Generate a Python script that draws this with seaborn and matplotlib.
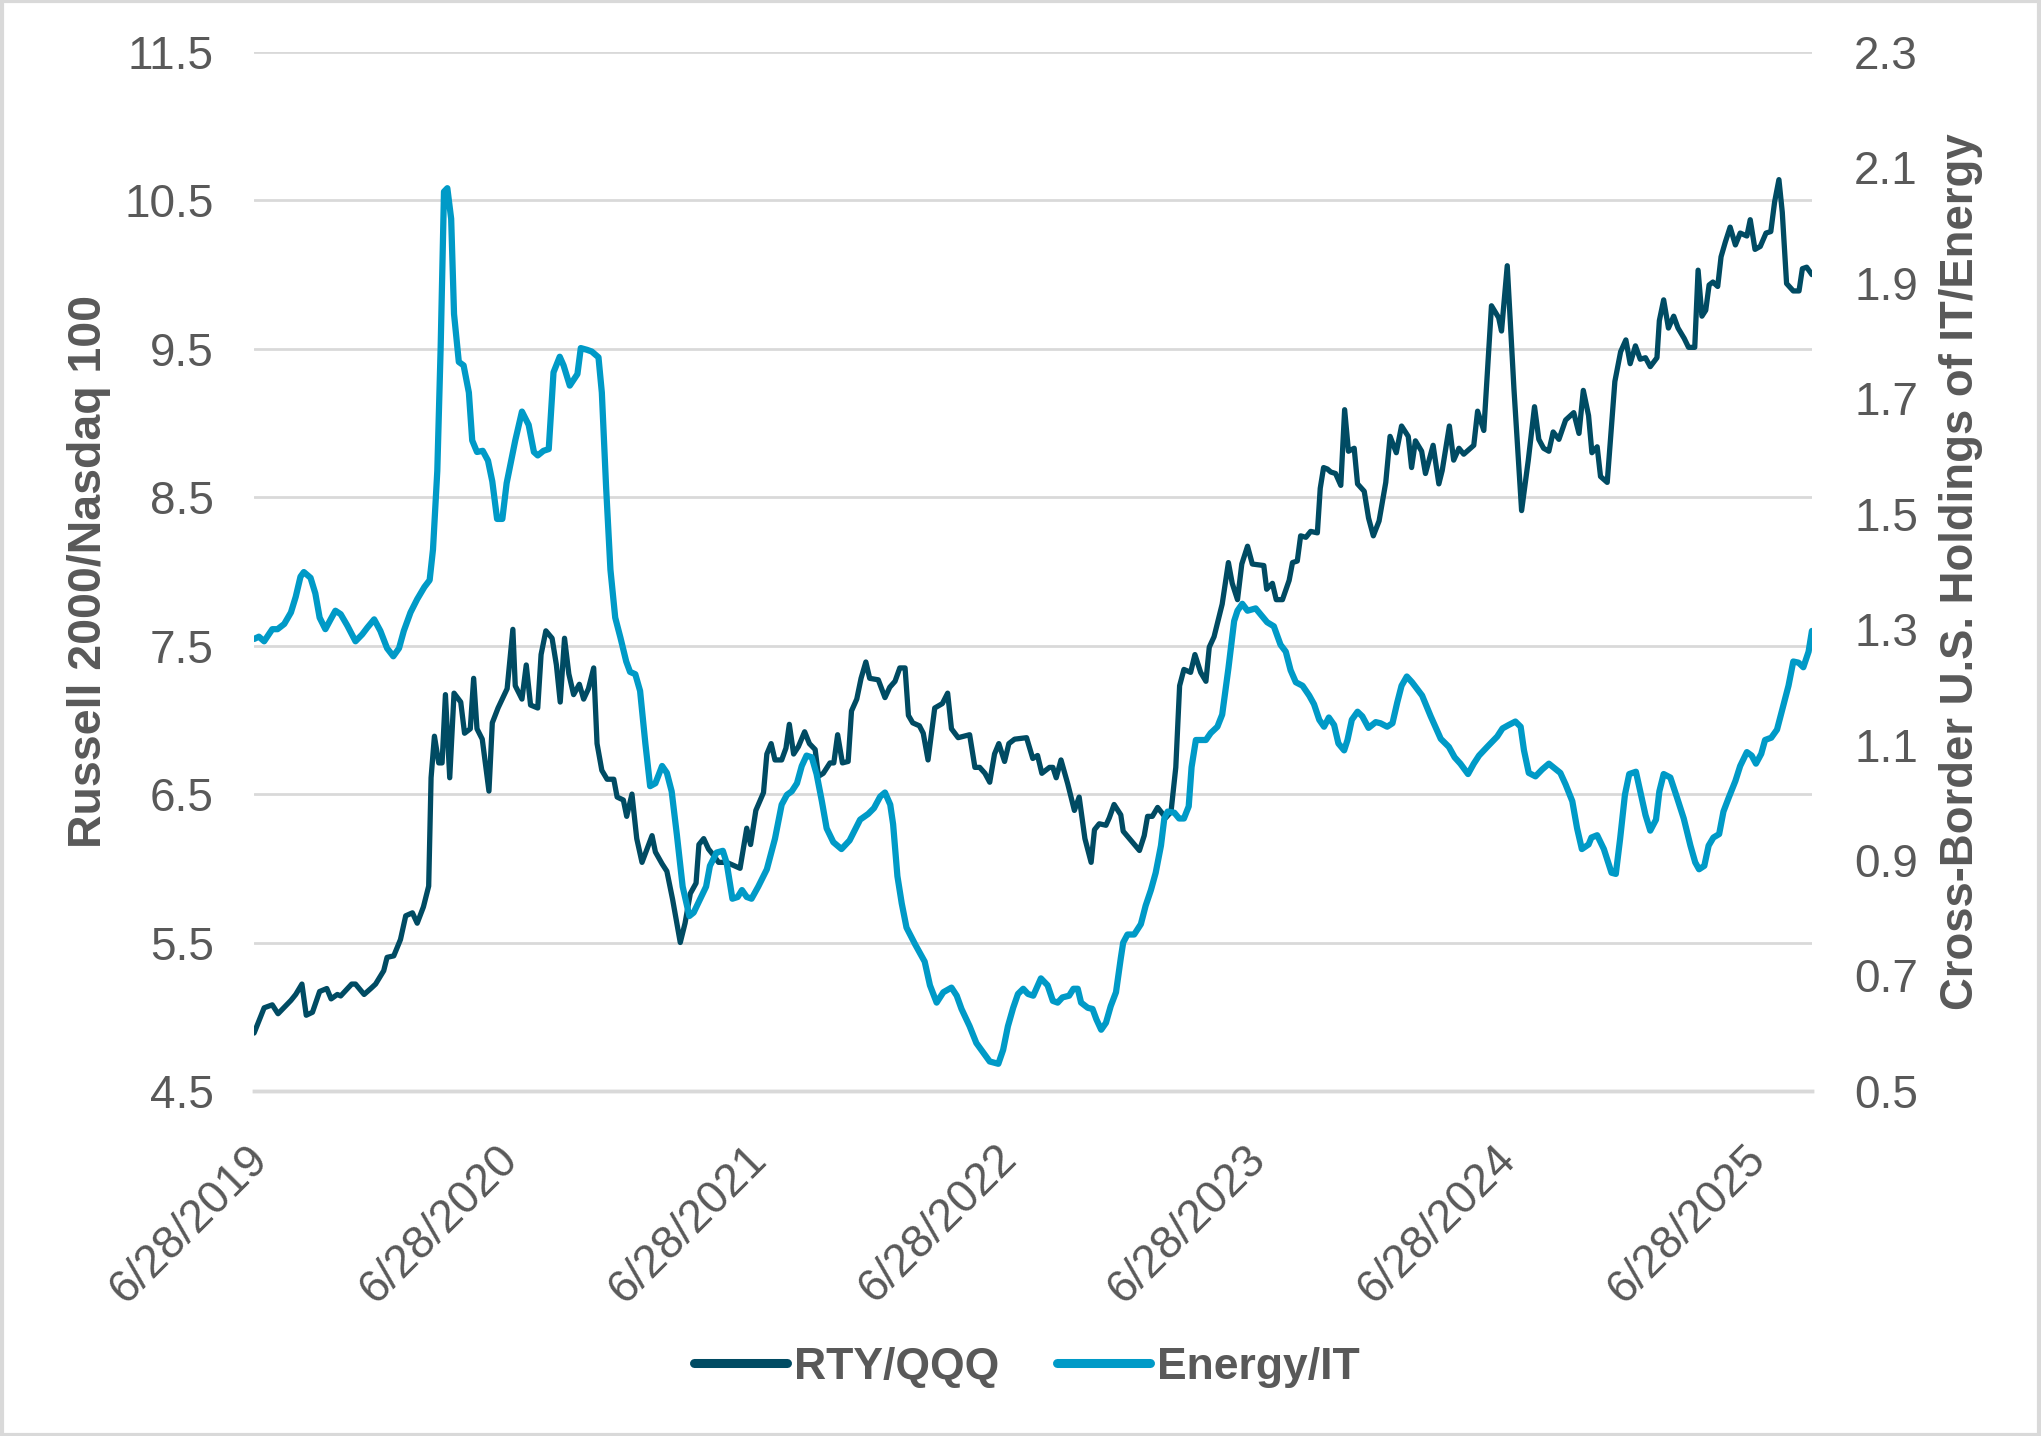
import numpy as np
import pandas as pd
import seaborn as sns
import matplotlib.pyplot as plt
import matplotlib.transforms as mtransforms
from matplotlib.lines import Line2D
from matplotlib.patches import Rectangle

# weeks since 6/28/2019 and the value
start = pd.Timestamp("2019-06-28")

rty_weeks = [0, 2.1, 3.8, 5.0, 7.7, 8.7, 10.0, 10.9, 12.2, 13.7, 15.2, 16.1, 17.4, 18.1, 20.4, 21.2,
             23.0, 24.4, 25.4, 27.1, 27.8, 29.2, 30.6, 31.7, 33.1, 34.1, 35.4, 36.5, 37.0, 37.7, 38.6,
             39.3, 40.0, 40.9, 41.8, 43.2, 44.0, 45.2, 45.9, 46.6, 47.7, 49.1, 49.8, 51.0, 52.9, 54.1,
             54.6, 56.0, 56.9, 57.8, 59.3, 60.0, 61.0, 62.3, 63.2, 64.0, 64.9, 65.8, 66.8, 68.0, 68.9,
             69.9, 71.0, 71.7, 72.7, 73.8, 75.2, 75.9, 77.2, 77.9, 79.0, 80.0, 81.1, 83.2, 83.9, 85.3,
             86.3, 87.5, 89.1, 90.1, 91.2, 92.4, 93.0, 94.0, 95.0, 96.0, 97.1, 98.8, 100.2, 101.6,
             103.0, 103.8, 104.9, 106.5, 107.2, 108.1, 108.9, 110.3, 111.2, 111.9, 112.8, 113.8,
             115.1, 116.1, 117.3, 118.0, 119.0, 120.4, 121.2, 122.0, 123.0, 124.2, 124.9, 126.0,
             126.9, 127.9, 128.7, 130.5, 131.9, 132.9, 134.0, 135.0, 136.1, 136.8, 137.7, 139.1,
             139.9, 140.9, 142.3, 143.9, 145.0, 145.8, 147.2, 149.6, 150.7, 151.7, 152.8, 153.8,
             154.8, 155.7, 156.9, 157.8, 159.0, 161.5, 162.8, 163.8, 164.7, 166.3, 167.0, 167.7,
             168.7, 170.1, 171.5, 172.5, 173.7, 175.0, 175.7, 176.7, 178.1, 178.8, 179.8, 181.2,
             181.7, 183.0, 185.1, 186.1, 186.8, 187.8, 188.9, 190.6, 191.7, 192.7, 193.5, 194.4,
             195.8, 196.7, 197.9, 199.0, 199.7, 200.7, 202.4, 203.7, 204.5, 205.6, 206.5, 207.7,
             208.7, 211.1, 211.7, 212.9, 213.7, 215.0, 216.4, 217.1, 218.1, 218.8, 219.9, 220.9,
             222.3, 222.9, 223.6, 224.4, 225.1, 226.1, 227.2, 228.0, 228.8, 230.0, 230.7, 232.1,
             233.0, 234.0, 235.2, 236.6, 237.5, 238.8, 239.9, 241.3, 242.0, 242.8, 244.1, 244.9,
             246.5, 247.7, 248.4, 249.9, 250.8, 251.9, 252.9, 255.0, 255.8, 257.1, 258.7, 260.2,
             260.8, 262.0, 263.4, 265.0, 266.4, 267.7, 268.6, 269.6, 270.7, 271.6, 272.8, 274.2,
             275.9, 277.0, 277.9, 279.0, 279.7, 280.8, 281.5, 282.9, 284.5, 285.7, 286.8, 287.7,
             288.8, 289.8, 290.9, 291.9, 293.3, 293.8, 294.7, 295.7, 296.8, 297.7, 299.0, 299.9,
             301.2, 301.9, 302.7, 303.5, 304.2, 305.0, 306.0, 306.7, 307.6, 308.6, 309.7, 310.7,
             312.1, 312.8, 313.8, 314.9, 316.1, 317.1, 317.9, 318.8, 319.5, 320.4, 321.8, 323.0,
             323.7, 324.6, 325.7]
rty_vals = [4.89, 5.06, 5.08, 5.02, 5.11, 5.15, 5.22, 5.01, 5.03, 5.17, 5.19, 5.12, 5.15, 5.14, 5.22, 5.22,
            5.15, 5.19, 5.22, 5.31, 5.40, 5.41, 5.52, 5.68, 5.70, 5.63, 5.74, 5.88, 6.61, 6.89, 6.71,
            6.71, 7.17, 6.61, 7.18, 7.12, 6.91, 6.94, 7.28, 6.94, 6.87, 6.52, 6.98, 7.08, 7.21, 7.61,
            7.23, 7.14, 7.37, 7.10, 7.08, 7.44, 7.60, 7.55, 7.37, 7.12, 7.55, 7.31, 7.17, 7.24, 7.14,
            7.21, 7.35, 6.84, 6.66, 6.60, 6.60, 6.48, 6.46, 6.35, 6.50, 6.20, 6.04, 6.22, 6.11, 6.03,
            5.98, 5.79, 5.50, 5.63, 5.83, 5.90, 6.16, 6.20, 6.13, 6.09, 6.04, 6.04, 6.02, 6.00,
            6.27, 6.16, 6.39, 6.51, 6.77, 6.84, 6.73, 6.73, 6.81, 6.97, 6.77, 6.82,
            6.92, 6.84, 6.80, 6.62, 6.64, 6.71, 6.71, 6.90, 6.71, 6.72, 7.06, 7.14,
            7.28, 7.39, 7.28, 7.27, 7.15, 7.22, 7.26, 7.35, 7.35, 7.03, 6.98, 6.96,
            6.91, 6.73, 7.08, 7.11, 7.18, 6.94, 6.88, 6.90, 6.68, 6.68, 6.64, 6.58,
            6.77, 6.84, 6.72, 6.84, 6.87, 6.88, 6.74, 6.76, 6.64, 6.68, 6.68, 6.61,
            6.73, 6.57, 6.39, 6.48, 6.20, 6.04, 6.26, 6.30, 6.29, 6.34, 6.43, 6.36,
            6.25, 6.20, 6.12, 6.22, 6.35, 6.35, 6.41, 6.34, 6.38, 6.68, 7.23, 7.34,
            7.32, 7.44, 7.32, 7.26, 7.49, 7.56, 7.78, 8.06, 7.92, 7.81, 8.05, 8.17,
            8.05, 8.04, 7.88, 7.92, 7.81, 7.81, 7.94, 8.06, 8.07, 8.24, 8.23, 8.27,
            8.26, 8.56, 8.70, 8.69, 8.67, 8.66, 8.58, 9.09, 8.81, 8.83, 8.59, 8.54,
            8.36, 8.24, 8.34, 8.60, 8.91, 8.80, 8.98, 8.91, 8.70, 8.88, 8.81, 8.66,
            8.85, 8.59, 8.68, 8.98, 8.75, 8.83, 8.79, 8.85, 9.08, 8.95, 9.79, 9.71,
            9.62, 10.06, 9.23, 8.41, 8.75, 9.11, 8.89, 8.83, 8.81, 8.94, 8.89, 9.02,
            9.07, 8.93, 9.22, 9.05, 8.80, 8.84, 8.64, 8.60, 9.28, 9.48, 9.56, 9.40,
            9.52, 9.43, 9.44, 9.38, 9.44, 9.69, 9.83, 9.64, 9.72, 9.64, 9.57, 9.51,
            9.51, 10.03, 9.72, 9.76, 9.93, 9.95, 9.92, 10.12, 10.22, 10.32, 10.20, 10.28,
            10.26, 10.37, 10.17, 10.19, 10.28, 10.29, 10.49, 10.64, 10.42, 9.94, 9.89, 9.89,
            10.04, 10.05, 10.00]

energy_weeks = [0, 1.0, 2.1, 3.8, 4.9, 6.3, 7.7, 8.7, 9.7, 10.4, 11.8, 12.8, 13.7, 14.9, 16.0, 17.0,
                18.1, 19.5, 21.2, 22.6, 23.7, 25.1, 26.4, 27.8, 29.1, 30.3, 31.3, 32.7, 34.1, 35.6,
                36.7, 37.4, 38.3, 39.0, 39.7, 40.4, 41.2, 41.8, 42.8, 43.8, 44.9, 45.6, 46.6, 47.8,
                48.9, 49.8, 50.8, 51.9, 52.8, 53.6, 54.6, 56.0, 57.4, 58.5, 59.3, 60.5, 61.6, 62.6,
                63.9, 64.7, 66.0, 67.6, 68.3, 69.6, 70.6, 72.0, 72.7, 73.6, 74.5, 75.5, 76.6, 77.8,
                78.6, 79.7, 80.7, 81.8, 82.8, 83.9, 85.3, 86.3, 87.3, 88.4, 89.6, 91.0, 91.9, 93.3,
                94.5, 95.3, 96.7, 98.0, 98.8, 100.0, 101.1, 102.0, 103.0, 104.0, 105.4, 107.2, 108.9,
                110.3, 111.4, 112.4, 113.5, 114.5, 115.5, 116.6, 117.6, 118.7, 119.7, 121.1, 122.8,
                124.5, 126.7, 128.4, 129.6, 130.9, 131.9, 133.0, 133.6, 134.5, 135.4, 136.4, 138.2,
                140.2, 141.3, 142.7, 144.1, 145.8, 146.9, 147.9, 149.6, 151.0, 152.4, 153.8, 155.6,
                156.6, 157.6, 158.7, 159.7, 160.8, 161.8, 162.9, 164.5, 165.9, 167.0, 168.0, 169.0,
                170.4, 171.3, 172.2, 172.9, 174.3, 175.3, 176.1, 177.1, 178.1, 179.1, 180.2, 181.2,
                181.7, 182.6, 184.0, 185.4, 186.4, 187.5, 188.5, 189.6, 190.3, 191.0, 192.4, 193.4,
                194.4, 195.4, 196.0, 196.9, 197.9, 199.0, 200.0, 201.4, 202.4, 203.7, 204.9, 205.6,
                206.6, 207.7, 209.4, 211.8, 213.2, 214.6, 215.7, 216.7, 217.8, 219.2, 220.6, 221.6,
                222.7, 223.7, 224.7, 225.8, 226.7, 227.9, 228.6, 229.5, 230.7, 231.7, 233.0, 234.5,
                235.5, 236.9, 238.0, 239.0, 239.9, 241.0, 242.1, 244.2, 246.0, 248.1, 249.8, 251.0,
                252.2, 253.8, 255.0, 256.1, 257.8, 259.9, 261.0, 262.3, 263.7, 264.8, 265.5, 266.5,
                267.9, 269.3, 270.7, 273.1, 274.2, 275.6, 276.6, 277.6, 279.0, 279.6, 280.8, 282.2,
                283.8, 284.7, 285.6, 286.6, 287.5, 288.9, 289.8, 290.9, 291.9, 293.1, 293.8, 294.7,
                296.1, 297.5, 298.9, 300.3, 301.3, 302.1, 303.2, 304.1, 305.1, 306.3, 307.2, 308.3,
                309.7, 310.7, 312.1, 313.1, 314.0, 315.1, 315.9, 317.2, 318.4, 319.7, 320.8, 321.8,
                322.9, 323.9, 325.0, 325.7]
energy_vals = [1.283, 1.287, 1.279, 1.300, 1.300, 1.309, 1.329, 1.356, 1.391, 1.399, 1.389, 1.362, 1.320,
               1.300, 1.317, 1.332, 1.326, 1.306, 1.279, 1.291, 1.303, 1.317, 1.297, 1.267, 1.253,
               1.267, 1.297, 1.329, 1.352, 1.373, 1.385, 1.438, 1.574, 1.787, 2.058, 2.064, 2.011,
               1.846, 1.763, 1.757, 1.710, 1.627, 1.607, 1.609, 1.592, 1.556, 1.491, 1.491, 1.553,
               1.586, 1.627, 1.677, 1.654, 1.607, 1.601, 1.609, 1.612, 1.745, 1.772, 1.757, 1.722,
               1.742, 1.787, 1.784, 1.781, 1.771, 1.710, 1.545, 1.403, 1.320, 1.285, 1.244, 1.226,
               1.222, 1.193, 1.102, 1.028, 1.033, 1.063, 1.051, 1.019, 0.943, 0.854, 0.803, 0.809,
               0.833, 0.854, 0.890, 0.913, 0.916, 0.895, 0.833, 0.836, 0.848, 0.836, 0.833, 0.854,
               0.884, 0.937, 0.996, 1.013, 1.019, 1.033, 1.063, 1.081, 1.078, 1.049, 1.002, 0.955,
               0.931, 0.919, 0.934, 0.970, 0.980, 0.990, 1.010, 1.017, 0.996, 0.962, 0.872, 0.825,
               0.783, 0.754, 0.724, 0.683, 0.653, 0.671, 0.679, 0.665, 0.642, 0.612, 0.583, 0.567,
               0.551, 0.547, 0.571, 0.612, 0.644, 0.668, 0.677, 0.668, 0.665, 0.695, 0.683, 0.656,
               0.653, 0.662, 0.665, 0.677, 0.677, 0.653, 0.644, 0.642, 0.624, 0.606, 0.618, 0.647,
               0.671, 0.730, 0.757, 0.771, 0.771, 0.789, 0.821, 0.848, 0.878, 0.925, 0.972, 0.984,
               0.982, 0.972, 0.972, 0.993, 1.061, 1.108, 1.108, 1.108, 1.120, 1.131, 1.152, 1.232,
               1.314, 1.332, 1.344, 1.332, 1.336, 1.312, 1.305, 1.273, 1.261, 1.229, 1.208, 1.202,
               1.185, 1.170, 1.143, 1.131, 1.147, 1.134, 1.102, 1.090, 1.108, 1.143, 1.157, 1.149,
               1.129, 1.139, 1.137, 1.131, 1.137, 1.173, 1.202, 1.218, 1.208, 1.185, 1.149, 1.110,
               1.096, 1.078, 1.067, 1.049, 1.067, 1.081, 1.096, 1.114, 1.128, 1.134, 1.140, 1.131,
               1.090, 1.051, 1.045, 1.057, 1.067, 1.051, 1.031, 1.002, 0.955, 0.919, 0.927, 0.939,
               0.943, 0.919, 0.878, 0.876, 0.937, 1.013, 1.049, 1.053, 1.019, 0.978, 0.951, 0.970,
               1.019, 1.049, 1.043, 1.008, 0.972, 0.925, 0.896, 0.884, 0.890, 0.925, 0.939, 0.945,
               0.984, 1.008, 1.037, 1.063, 1.087, 1.081, 1.067, 1.084, 1.108, 1.112, 1.126, 1.167,
               1.202, 1.244, 1.242, 1.234, 1.261, 1.297]

tick_dates = ["2019-06-28", "2020-06-28", "2021-06-28", "2022-06-28",
              "2023-06-28", "2024-06-28", "2025-06-28"]
tick_labels = ["6/28/2019", "6/28/2020", "6/28/2021", "6/28/2022",
               "6/28/2023", "6/28/2024", "6/28/2025"]

DARK = "#004B63"
LIGHT = "#009AC7"
GREY_TXT = "#595959"
GRID = "#D9D9D9"

rty = pd.DataFrame({"Date": start + pd.to_timedelta(np.array(rty_weeks) * 7, unit="D"),
                    "Value": rty_vals})
energy = pd.DataFrame({"Date": start + pd.to_timedelta(np.array(energy_weeks) * 7, unit="D"),
                       "Value": energy_vals})

sns.set_theme(style="white")
plt.rcParams["font.family"] = ["Liberation Sans", "DejaVu Sans"]

fig = plt.figure(figsize=(20.41, 14.36), dpi=100)
ax = fig.add_axes([0.1245, 0.2403, 0.7635, 0.7235])
ax2 = ax.twinx()

sns.lineplot(data=rty, x="Date", y="Value", ax=ax, color=DARK, linewidth=3.8)
sns.lineplot(data=energy, x="Date", y="Value", ax=ax2, color=LIGHT, linewidth=4.5)

# axes ranges / ticks
ax.set_xlim(start, start + pd.Timedelta(days=325.8 * 7))
ax.set_ylim(4.5, 11.5)
ax.set_yticks(np.arange(4.5, 11.6, 1.0))
ax.set_yticklabels([f"{v:.1f}" for v in np.arange(4.5, 11.6, 1.0)])
ax2.set_ylim(0.5, 2.3)
ax2.set_yticks(np.arange(0.5, 2.31, 0.2))
ax2.set_yticklabels([f"{v:.1f}" for v in np.arange(0.5, 2.31, 0.2)])

ax.set_xticks(pd.to_datetime(tick_dates))
ax.set_xticklabels(tick_labels)

ax.grid(axis="y", color=GRID, linewidth=2)
ax.set_axisbelow(True)
for a in (ax, ax2):
    for s in ("left", "right", "top"):
        a.spines[s].set_visible(False)
    a.spines["bottom"].set_color(GRID)
    a.spines["bottom"].set_linewidth(2.5)

ax.tick_params(axis="y", length=0, pad=29, labelsize=33, labelcolor=GREY_TXT)
ax2.tick_params(axis="y", length=0, pad=30, labelsize=33, labelcolor=GREY_TXT)
ax.tick_params(axis="x", length=12, width=2.5, color=GRID, pad=32, labelsize=33, labelcolor=GREY_TXT)
shift = mtransforms.ScaledTranslation(7 / 100, 0, fig.dpi_scale_trans)
for lab in ax.get_xticklabels():
    lab.set_rotation(45)
    lab.set_ha("right")
    lab.set_va("center")
    lab.set_rotation_mode("anchor")
    lab.set_transform(lab.get_transform() + shift)

narrow = ["Liberation Sans Narrow", "Liberation Sans", "DejaVu Sans"]
ax.set_xlabel("")
ax.set_ylabel("Russell 2000/Nasdaq 100", fontsize=33.5, fontweight="bold",
              color=GREY_TXT, family=narrow)
ax.yaxis.set_label_coords(-0.092, 0.5)
ax2.set_xlabel("")
ax2.set_ylabel("Cross-Border U.S. Holdings of IT/Energy", fontsize=32.8, fontweight="bold",
               color=GREY_TXT, family=narrow)
ax2.yaxis.set_label_coords(1.0815, 0.5)

handles = [Line2D([0], [0], color=DARK, linewidth=6.5, solid_capstyle="round"),
           Line2D([0], [0], color=LIGHT, linewidth=6.5, solid_capstyle="round")]
fig.legend(handles, ["RTY/QQQ", "Energy/IT"], loc="center", bbox_to_anchor=(0.503, 0.048),
           ncol=2, frameon=False, handlelength=2.1, handletextpad=0.15, columnspacing=1.3,
           prop={"size": 32, "weight": "bold"}, labelcolor=GREY_TXT)

fig.patches.append(Rectangle((0.001, 0.001), 0.998, 0.998, transform=fig.transFigure,
                             fill=False, edgecolor=GRID, linewidth=3))

plt.savefig("out.png", dpi=100)
